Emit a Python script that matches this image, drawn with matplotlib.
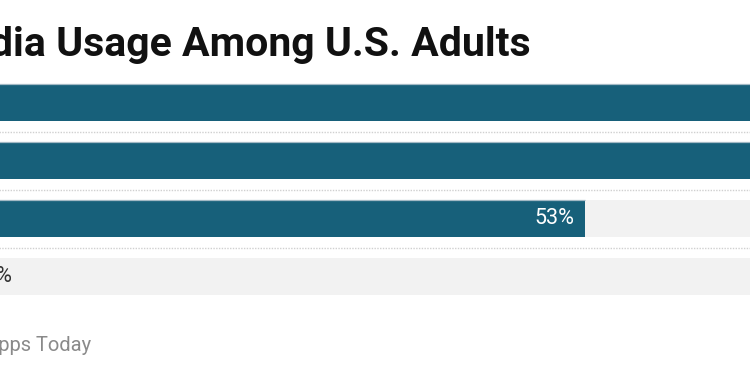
import matplotlib
matplotlib.use("Agg")
import matplotlib.pyplot as plt
import numpy as np

# Data (only part of the chart is visible in the reference crop)
categories = ["Row 1", "Row 2", "Row 3", "Row 4"]
values = [81, 70, 53, 12]

TITLE = "Social Media Usage Among U.S. Adults"
SOURCE = "Source: Apps Today"

BAR = "#17607a"
TRACK = "#f2f2f2"
EDGE = "#a3b9c5"

plt.rcParams["font.family"] = ["Roboto", "DejaVu Sans"]

fig = plt.figure(figsize=(7.5, 3.75), dpi=100)
ax = fig.add_axes([0, 1 - 305.5 / 375, 1, 232 / 375])

y = np.arange(len(categories))
h = 0.65

ax.barh(y, 100, height=h, color=TRACK, linewidth=0, zorder=1)
ax.barh(y, values, height=h, color=BAR, linewidth=0, zorder=2)
ax.hlines(y - h / 2, 0, values, color=EDGE, linewidth=0.9, zorder=3)

# dotted separators between rows
ax.hlines(y[:-1] + 0.5, 0, 100, color="#d0d0d0", linewidth=1,
          linestyles=(0, (1, 1)), zorder=1)

for yi, v in zip(y, values):
    if v > 20:
        ax.annotate(f"{v}%", (v, yi), xytext=(-7.2, 0), textcoords="offset points",
                    ha="right", va="center", color="white", fontsize=15.5,
                    zorder=4, annotation_clip=False)
    else:
        ax.annotate(f"{v}%", (v, yi), xytext=(7.2, 0), textcoords="offset points",
                    ha="left", va="center", color="#333333", fontsize=15.5,
                    zorder=4, annotation_clip=False)

# view window of the crop
ax.set_xlim(14.5, 63.9)
ax.set_ylim(len(categories) - 0.5, -0.5)
ax.axis("off")

fig.text(531 / 750, 1 - 56 / 375, TITLE, ha="right", va="baseline",
         fontsize=29.5, fontweight="bold", color="#111111")
fig.text(91 / 750, 1 - 351 / 375, SOURCE, ha="right", va="baseline",
         fontsize=14.5, color="#8a8a8a")

fig.savefig("out.png", dpi=100)
